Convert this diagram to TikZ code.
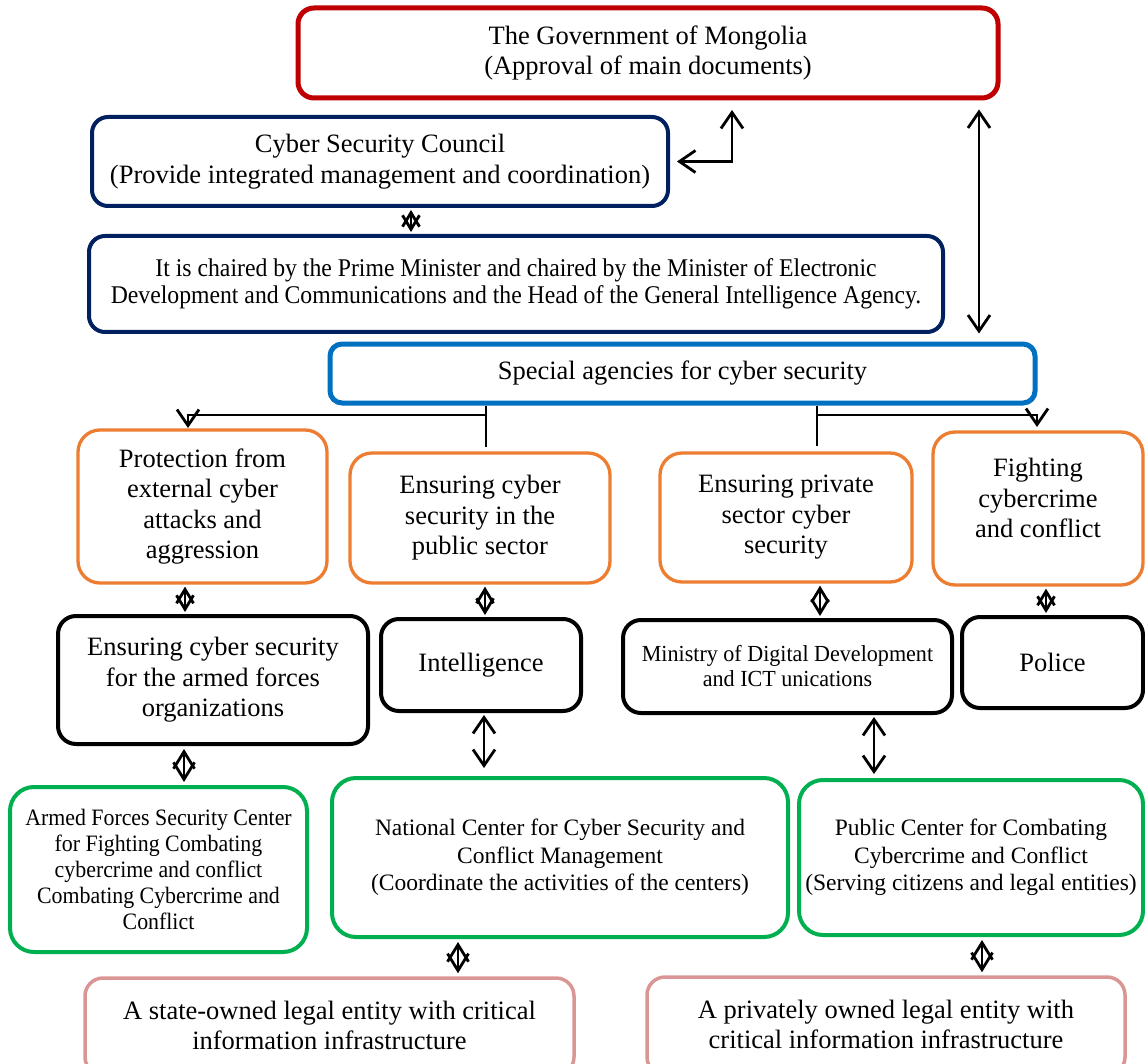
\documentclass[tikz,border=0pt]{standalone}
\usepackage{fontspec}
\setmainfont{Liberation Serif}
\newfontfamily\condA{Liberation Serif}[FakeStretch=0.93]
\newfontfamily\condB{Liberation Serif}[FakeStretch=0.96]
\usetikzlibrary{arrows.meta,calc}
\definecolor{govred}{RGB}{192,0,0}
\definecolor{navy}{RGB}{0,32,96}
\definecolor{agblue}{RGB}{0,112,192}
\definecolor{orng}{RGB}{237,125,49}
\definecolor{grn}{RGB}{0,176,80}
\definecolor{pnk}{RGB}{218,150,148}
\tikzset{
  myvee/.tip={Straight Barb[length=16pt,width=22pt]},
  dsmall/.tip={Straight Barb[length=14pt,width=17pt]},
  dbig/.tip={Straight Barb[length=17pt,width=21pt]},
  box/.style={rectangle, draw, inner sep=0pt, align=center,
    font=\fontsize{26.5pt}{30.5pt}\selectfont},
  redbox/.style={box, draw=govred, line width=5pt, rounded corners=16pt},
  navybox/.style={box, draw=navy, line width=4pt, rounded corners=16pt},
  bluebox/.style={box, draw=agblue, line width=5pt, rounded corners=12pt},
  orbox/.style={box, draw=orng, line width=3.3pt, rounded corners=22pt},
  blkbox/.style={box, draw=black, line width=4pt, rounded corners=18pt},
  grbox/.style={box, draw=grn, line width=4pt, rounded corners=24pt},
  pkbox/.style={box, draw=pnk, line width=3.5pt, rounded corners=18pt},
  txt/.style={inner sep=0pt, align=center, font=\fontsize{26.5pt}{30.5pt}\selectfont},
  conn/.style={line width=2.8pt, draw=black},
  diasmall/.style={line width=2.8pt, dsmall-dsmall, shorten <=2pt, shorten >=2pt},
  diabig/.style={line width=2.8pt, dbig-dbig, shorten <=3pt, shorten >=3pt},
  dbl/.style={conn, myvee-myvee}
}
\begin{document}
\begin{tikzpicture}[x=1pt,y=-1pt]
\useasboundingbox (0,0) rectangle (1145,1064);
\clip (0,0) rectangle (1145,1064);
% boxes
\node[redbox, minimum width=700pt, minimum height=90pt] (gov) at (648,53)
  {The Government of Mongolia\\(Approval of main documents)};
\node[navybox, minimum width=576pt, minimum height=89pt] (council) at (380,161.5)
  {Cyber Security Council\\(Provide integrated management and coordination)};
\node[navybox, minimum width=854pt, minimum height=96pt,
  font=\condA\fontsize{25.5pt}{27.5pt}\selectfont] (chair) at (516,284)
  {It is chaired by the Prime Minister and chaired by the Minister of Electronic\\Development and Communications and the Head of the General Intelligence Agency.};
\node[bluebox, minimum width=705pt, minimum height=59pt] (special) at (682.5,373.5)
  {Special agencies for cyber security};
\node[orbox, minimum width=249pt, minimum height=153pt] (A) at (202.5,506.5)
  {Protection from\\external cyber\\attacks and\\aggression};
\node[orbox, minimum width=260pt, minimum height=130pt] (B) at (480,518)
  {Ensuring cyber\\security in the\\public sector};
\node[orbox, minimum width=252pt, minimum height=129pt] (C) at (786,517.5)
  {Ensuring private\\sector cyber\\security};
\node[orbox, minimum width=210pt, minimum height=153pt] (D) at (1038,508.5) {};
\node[txt] (Dt) at (1038,498) {Fighting\\cybercrime\\and conflict};
\node[blkbox, minimum width=310pt, minimum height=128pt] (E) at (213,680)
  {Ensuring cyber security\\for the armed forces\\organizations};
\node[blkbox, minimum width=200pt, minimum height=92pt] (F) at (481,665)
  {Intelligence};
\node[blkbox, minimum width=329pt, minimum height=93pt,
  font=\condB\fontsize{23pt}{25pt}\selectfont] (G) at (787.5,666.5)
  {Ministry of Digital Development\\and ICT unications};
\node[blkbox, minimum width=181pt, minimum height=91pt] (H) at (1052.5,662.5)
  {Police};
\node[grbox, minimum width=297pt, minimum height=165pt,
  font=\condA\fontsize{23.5pt}{26pt}\selectfont] (I) at (158.5,869.5)
  {Armed Forces Security Center\\for Fighting Combating\\cybercrime and conflict\\Combating Cybercrime and\\Conflict};
\node[grbox, minimum width=456pt, minimum height=159pt,
  font=\fontsize{23.5pt}{27.5pt}\selectfont] (J) at (560,857.5)
  {National Center for Cyber Security and\\Conflict Management\\(Coordinate the activities of the centers)};
\node[grbox, minimum width=344pt, minimum height=155pt,
  font=\fontsize{23.5pt}{27.5pt}\selectfont] (K) at (971,857.5)
  {Public Center for Combating\\Cybercrime and Conflict\\(Serving citizens and legal entities)};
\node[pkbox, minimum width=489pt, minimum height=97pt] (P1) at (329.5,1026.5) {};
\node[txt, font=\fontsize{26.5pt}{30pt}\selectfont] (P1t) at (329.5,1025)
  {A state-owned legal entity with critical\\information infrastructure};
\node[pkbox, minimum width=478pt, minimum height=98pt] (P2) at (886,1026) {};
\node[txt, font=\fontsize{26.5pt}{30pt}\selectfont] (P2t) at (886,1024)
  {A privately owned legal entity with\\critical information infrastructure};
% helper coordinates
\coordinate (cgx) at (732,98);
\coordinate (gsx) at (979,0);
\coordinate (ccx) at (411,0);
\coordinate (jL) at (486,415);
\coordinate (endL) at (486,447);
\coordinate (tipA) at (188,428);
\coordinate (jR) at (817,415);
\coordinate (endR) at (817,446);
\coordinate (tipD) at (1037,427);
\coordinate (d1) at (185,0);
\coordinate (d2) at (485,0);
\coordinate (d3) at (820,0);
\coordinate (d4) at (1046,0);
\coordinate (d5) at (184,0);
\coordinate (d6) at (458,0);
\coordinate (d7) at (982,0);
\coordinate (a1) at (484,0);
\coordinate (a2) at (874,0);
% connectors
\draw[dbl, shorten <=7pt, shorten >=12pt] (council.east) -| (cgx);
\draw[dbl, shorten <=9pt, shorten >=8pt] (gsx |- gov.south) -- (gsx |- special.north);
\draw[diasmall] (ccx |- council.south) -- (ccx |- chair.north);
\draw[conn] (endL |- special.south) -- (endL);
\draw[conn, -myvee] (jL) -| (tipA);
\draw[conn] (endR |- special.south) -- (endR);
\draw[conn, -myvee] (jR) -| (tipD);
\draw[diasmall] (d1 |- A.south) -- (d1 |- E.north);
\draw[diasmall] (d2 |- B.south) -- (d2 |- F.north);
\draw[diasmall] (d3 |- C.south) -- (d3 |- G.north);
\draw[diasmall] (d4 |- D.south) -- (d4 |- H.north);
\draw[diabig] (d5 |- E.south) -- (d5 |- I.north);
\draw[diabig] (d6 |- J.south) -- (d6 |- P1.north);
\draw[diabig] (d7 |- K.south) -- (d7 |- P2.north);
\draw[dbl, shorten <=2pt, shorten >=8pt] (a1 |- F.south) -- (a1 |- J.north);
\draw[dbl, shorten <=2pt, shorten >=4pt] (a2 |- G.south) -- (a2 |- K.north);
\end{tikzpicture}
\end{document}
